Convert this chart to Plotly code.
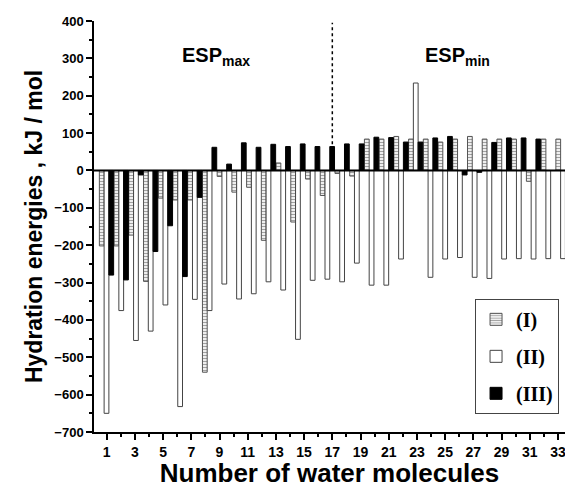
import plotly.graph_objects as go

# Number of water molecules (bar groups) and hydration energies (kJ/mol)
molecules = list(range(1, 33))
series_I = [-202, -202, -173, -297, -74, -79, -79, -540, -16, -58,
            -45, -187, 20, -138, -23, -67, -8, -15, 84, 84,
            91, 84, 84, 76, 84, 91, 84, 84, 84, -29, 84, 84]
series_II = [-650, -375, -455, -430, -360, -632, -345, -375, -304, -344,
             -330, -298, -320, -452, -294, -291, -298, -248, -307, -307,
             -237, 234, -286, -237, -233, -286, -289, -237, -236, -237, -236, -236]
series_III = [-280, -293, -12, -217, -148, -284, -72, 62, 17, 74,
              62, 70, 64, 71, 64, 64, 71, 71, 89, 88,
              76, 76, 87, 91, -12, -5, 75, 87, 87, 84, None, None]
series_names = ["(I)", "(II)", "(III)"]
x_tick_vals = list(range(1, 34, 2))
x_tick_text = [str(v) for v in x_tick_vals]
y_tick_vals = list(range(-700, 401, 100))
region_labels = ["ESP<sub>max</sub>", "ESP<sub>min</sub>"]
divider_x = 17

sans = "Liberation Sans, Arial, sans-serif"
serif = "Liberation Serif, Times New Roman, serif"

fig = go.Figure()
fig.add_trace(go.Bar(
    x=molecules, y=series_I, name=series_names[0], xaxis="x2", legendgroup="g1",
    marker=dict(color="white", line=dict(color="#555555", width=1),
                pattern=dict(shape="-", fgcolor="#444444", bgcolor="white", size=3, solidity=0.45)),
))
fig.add_trace(go.Bar(
    x=molecules, y=series_II, name=series_names[1], xaxis="x2", legendgroup="g2",
    marker=dict(color="white", line=dict(color="#444444", width=1)),
))
fig.add_trace(go.Bar(
    x=molecules, y=series_III, name=series_names[2], xaxis="x2", legendgroup="g3",
    marker=dict(color="black", line=dict(color="black", width=1)),
))

# page body adds an 8px margin, so the figure is 8px smaller and margins shifted
fig.update_layout(
    width=565, height=480,
    margin=dict(l=86, r=8, t=13, b=56),
    paper_bgcolor="white", plot_bgcolor="white",
    barmode="group", bargap=0.03, bargroupgap=0,
    showlegend=True,
    legend=dict(x=0.809, y=0.324, xanchor="left", yanchor="top",
                bordercolor="#444444", borderwidth=1, bgcolor="white",
                font=dict(family=serif, size=20, color="black", weight="bold"),
                itemwidth=30, tracegroupgap=8, traceorder="grouped"),
    xaxis=dict(range=[0.1, 33.5], tickmode="array", tickvals=x_tick_vals, ticktext=x_tick_text,
               ticks="outside", ticklen=6, tickwidth=1.5, tickcolor="black",
               minor=dict(dtick=1, tick0=0, ticks="outside", ticklen=3, tickwidth=1.5, tickcolor="black"),
               showline=True, linecolor="black", linewidth=1.5, showgrid=False, zeroline=False,
               tickfont=dict(family=sans, size=14, color="black", weight="bold"),
               title=dict(text="Number of water molecules", standoff=3,
                          font=dict(family=sans, size=26, color="black", weight="bold")),
               automargin=False),
    xaxis2=dict(range=[0.151, 32.136], overlaying="x", visible=False, showgrid=False, zeroline=False),
    yaxis=dict(range=[-700, 400], tickmode="array", tickvals=y_tick_vals,
               ticks="outside", ticklen=6, tickwidth=1.5, tickcolor="black",
               minor=dict(dtick=50, ticks="outside", ticklen=3, tickwidth=1.5, tickcolor="black"),
               showline=True, linecolor="black", linewidth=1.5, showgrid=False, zeroline=False,
               tickfont=dict(family=sans, size=13, color="black", weight="bold"),
               title=dict(text="Hydration energies , kJ / mol", standoff=5,
                          font=dict(family=sans, size=23, color="black", weight="bold")),
               automargin=False),
)

# zero baseline
fig.add_shape(type="line", xref="paper", yref="y", x0=0, x1=1, y0=0, y1=0,
              line=dict(color="black", width=2), layer="above")
# divider between ESPmax and ESPmin regions
fig.add_shape(type="line", xref="x", yref="y", x0=divider_x, x1=divider_x, y0=70, y1=395,
              line=dict(color="black", width=1.5, dash="dot"), layer="above")

fig.add_annotation(text=region_labels[0], xref="paper", yref="y", x=0.259, y=304,
                   xanchor="center", yanchor="middle",
                   showarrow=False, font=dict(family=sans, size=20, color="black", weight="bold"))
fig.add_annotation(text=region_labels[1], xref="paper", yref="y", x=0.771, y=304,
                   xanchor="center", yanchor="middle",
                   showarrow=False, font=dict(family=sans, size=20, color="black", weight="bold"))

fig.write_html("out.html")
